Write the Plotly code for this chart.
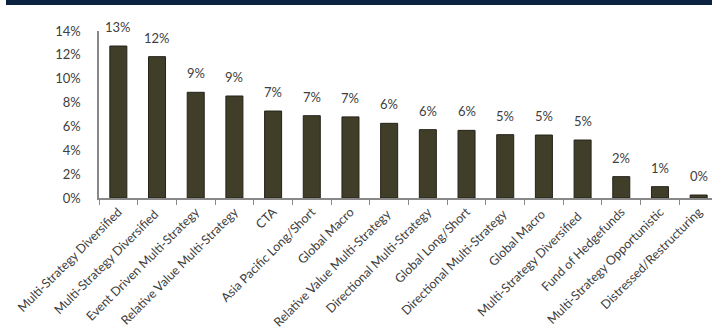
import plotly.graph_objects as go

categories = [
    "Multi-Strategy Diversified", "Multi-Strategy Diversified ", "Event Driven Multi-Strategy",
    "Relative Value Multi-Strategy", "CTA", "Asia Pacific Long/Short", "Global Macro",
    "Relative Value Multi-Strategy ", "Directional Multi-Strategy", "Global Long/Short",
    "Directional Multi-Strategy ", "Global Macro ", "Multi-Strategy Diversified  ",
    "Fund of Hedgefunds", "Multi-Strategy Opportunistic", "Distressed/Restructuring",
]
values = [12.74, 11.85, 8.86, 8.55, 7.29, 6.90, 6.80, 6.26, 5.73, 5.67, 5.31, 5.28, 4.86, 1.79, 0.95, 0.25]
labels = ["13%", "12%", "9%", "9%", "7%", "7%", "7%", "6%", "6%", "6%", "5%", "5%", "5%", "2%", "1%", "0%"]
y_ticks = [0, 2, 4, 6, 8, 10, 12, 14]
y_tick_text = ["0%", "2%", "4%", "6%", "8%", "10%", "12%", "14%"]

W, H = 712, 336
ML, MR, MT, MB = 99, 0, 31, 138
pw, ph = W - ML - MR, H - MT - MB
FONT = "Lato"
TXT = "#404040"

fig = go.Figure()
fig.add_trace(go.Bar(
    x=categories, y=values, width=0.44,
    marker=dict(color="#403e29", line=dict(color="#24221a", width=1)),
    hoverinfo="skip",
))
for c, v, t in zip(categories, values, labels):
    fig.add_annotation(x=c, y=v, text=t, showarrow=False, yanchor="bottom", yshift=9,
                       font=dict(family=FONT, size=13, color=TXT))

# top navy band
fig.add_shape(type="rect", xref="paper", yref="paper",
              x0=(6 - ML) / pw, x1=(W - ML) / pw + 0.01,
              y0=1 + (MT - 5) / ph, y1=1 + MT / ph + 0.01,
              fillcolor="#0b2240", line=dict(width=0), layer="above")

fig.update_layout(
    width=W, height=H,
    margin=dict(l=ML, r=MR, t=MT, b=MB, pad=0),
    paper_bgcolor="white", plot_bgcolor="white",
    showlegend=False,
    font=dict(family=FONT, size=12, color=TXT),
    xaxis=dict(
        range=[-0.5, 15.5 - 6 / 38.7],
        showline=True, linecolor="#888888", linewidth=1.5,
        ticks="outside", ticklen=5, tickcolor="#888888", tickson="boundaries",
        tickangle=-45, tickfont=dict(family=FONT, size=12.5, color=TXT),
        showgrid=False, zeroline=False,
    ),
    yaxis=dict(
        range=[0, 14], tickvals=y_ticks, ticktext=y_tick_text,
        showline=True, linecolor="#888888", linewidth=1.5,
        ticks="", ticklabelstandoff=14,
        tickfont=dict(family=FONT, size=13, color=TXT),
        showgrid=False, zeroline=False,
    ),
)

fig.write_html("out.html")
